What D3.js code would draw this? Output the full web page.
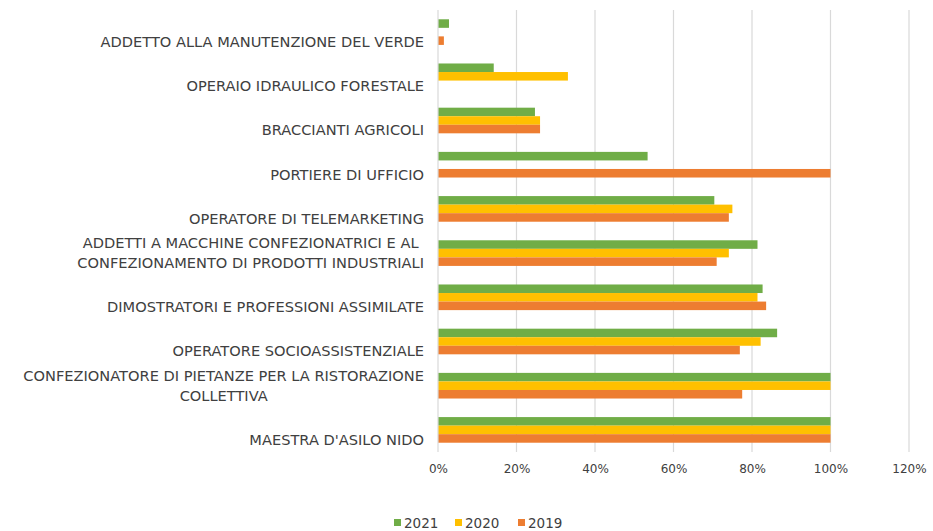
<!DOCTYPE html>
<html>
<head>
<meta charset="utf-8">
<script src="https://cdn.jsdelivr.net/npm/d3@7"></script>
<style>
    body { margin: 0; background: #fff; }
    text { font-family: "DejaVu Sans", sans-serif; fill: #404040; }
</style>
</head>
<body>
<div id="chart"></div>
<script>
// categories top to bottom, "\n" marks a wrapped label
const categories = [
    "ADDETTO ALLA MANUTENZIONE DEL VERDE",
    "OPERAIO IDRAULICO FORESTALE",
    "BRACCIANTI AGRICOLI",
    "PORTIERE DI UFFICIO",
    "OPERATORE DI TELEMARKETING",
    "ADDETTI A MACCHINE CONFEZIONATRICI E AL\nCONFEZIONAMENTO DI PRODOTTI INDUSTRIALI",
    "DIMOSTRATORI E PROFESSIONI ASSIMILATE",
    "OPERATORE SOCIOASSISTENZIALE",
    "CONFEZIONATORE DI PIETANZE PER LA RISTORAZIONE\nCOLLETTIVA",
    "MAESTRA D'ASILO NIDO"
];
const years = ["2021", "2020", "2019"];
const values2021 = [0.028, 0.142, 0.247, 0.534, 0.704, 0.814, 0.827, 0.864, 1.0, 1.0];
const values2020 = [0, 0.331, 0.26, 0, 0.75, 0.741, 0.814, 0.822, 1.0, 1.0];
const values2019 = [0.015, 0, 0.26, 1.0, 0.741, 0.71, 0.836, 0.769, 0.775, 1.0];
const xTicks = [0, 0.2, 0.4, 0.6, 0.8, 1.0, 1.2];
const colors = ["#70ad47", "#ffc000", "#ed7d31"];

const series = [values2021, values2020, values2019];

const width = 933, height = 531;
const margin = { top: 10, right: 24, bottom: 79, left: 438 };

const svg = d3.select("#chart").append("svg")
    .attr("width", width)
    .attr("height", height);

const x = d3.scaleLinear()
    .domain([0, 1.2])
    .range([margin.left, width - margin.right]);

const y = d3.scaleBand()
    .domain(categories)
    .range([margin.top, height - margin.bottom])
    .paddingInner(0.42)
    .paddingOuter(0.21);

const ySub = d3.scaleBand()
    .domain(years)
    .range([0, y.bandwidth()]);

// gridlines
svg.append("g")
    .selectAll("line")
    .data(xTicks.slice(1))
    .join("line")
    .attr("x1", d => x(d)).attr("x2", d => x(d))
    .attr("y1", margin.top).attr("y2", height - margin.bottom)
    .attr("stroke", "#d9d9d9")
    .attr("stroke-width", 1.2);

// bars
const groups = svg.append("g")
    .selectAll("g")
    .data(categories)
    .join("g")
    .attr("transform", d => `translate(0,${y(d)})`);

groups.selectAll("rect")
    .data((d, i) => years.map((yr, j) => ({ yr, v: series[j][i], c: colors[j] })))
    .join("rect")
    .attr("x", x(0))
    .attr("y", d => ySub(d.yr))
    .attr("width", d => x(d.v) - x(0))
    .attr("height", ySub.bandwidth())
    .attr("fill", d => d.c);

// axis line at 0
svg.append("line")
    .attr("x1", x(0)).attr("x2", x(0))
    .attr("y1", margin.top).attr("y2", height - margin.bottom)
    .attr("stroke", "#d9d9d9")
    .attr("stroke-width", 1.2);

// x tick labels
const xAxis = svg.append("g")
    .attr("transform", `translate(0,${height - margin.bottom})`)
    .call(d3.axisBottom(x).tickValues(xTicks).tickFormat(d3.format(".0%")).tickSize(0).tickPadding(12));
xAxis.select(".domain").remove();
xAxis.selectAll("text")
    .style("font-family", '"DejaVu Sans", sans-serif')
    .style("font-size", "12px")
    .attr("fill", "#404040");

// category labels, lines centred within the block, block right aligned
const lineH = 19.5;
const labelRight = 424;
svg.append("g")
    .selectAll("g")
    .data(categories)
    .join("g")
    .each(function(d) {
        const g = d3.select(this);
        const lines = d.split("\n");
        const cy = y(d) + y.bandwidth() / 2 + (lines.length === 1 ? lineH / 2 : 0);
        const texts = lines.map((ln, k) => g.append("text")
            .attr("y", cy + (k - (lines.length - 1) / 2) * lineH)
            .attr("dy", "0.35em")
            .attr("text-anchor", "middle")
            .style("font-size", "14.6px")
            .text(ln));
        const maxW = d3.max(texts, t => t.node().getComputedTextLength());
        texts.forEach(t => t.attr("x", labelRight - maxW / 2));
    });

// legend
const legendX = [394, 455, 518];
const legend = svg.append("g")
    .selectAll("g")
    .data(years)
    .join("g")
    .attr("transform", (d, i) => `translate(${legendX[i]},${height - 8})`);
legend.append("rect")
    .attr("x", 0).attr("y", -4)
    .attr("width", 7).attr("height", 7)
    .attr("fill", (d, i) => colors[i]);
legend.append("text")
    .attr("x", 10)
    .attr("dy", "0.35em")
    .style("font-size", "13.5px")
    .text(d => d);
</script>
</body>
</html>
